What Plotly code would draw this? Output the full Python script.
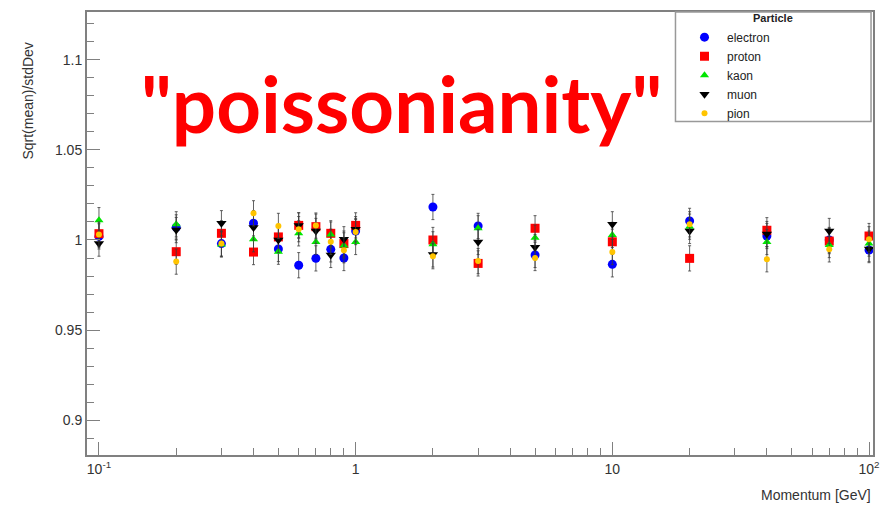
import plotly.graph_objects as go

momentum = [0.1, 0.2, 0.3, 0.4, 0.5, 0.6, 0.7, 0.8, 0.9, 1, 2, 3, 5, 10, 20, 40, 70, 100]

electron = [1.002, 1.007, 0.998, 1.0093, 0.995, 0.986, 0.9898, 0.9948, 0.990, 1.005,
            1.0183, 1.0078, 0.9917, 0.9865, 1.0106, 1.0022, 1.000, 0.9944]
proton = [1.0035, 0.9935, 1.0037, 0.9933, 1.0017, 1.0081, 1.0074, 1.0037, 0.998, 1.0081,
          1.0, 0.987, 1.0065, 0.999, 0.9898, 1.0054, 0.9994, 1.0022]
kaon = [1.011, 1.0087, 0.9975, 1.0004, 0.9935, 1.0037, 0.9989, 1.003, 0.997, 0.9989,
        0.9976, 1.0065, 1.0013, 1.0028, 1.0074, 0.9989, 0.9972, 0.998]
muon = [0.998, 1.0055, 1.0093, 1.0069, 1.0, 1.0081, 1.005, 0.9917, 1.0004, 1.006,
        0.992, 0.9989, 0.996, 1.0087, 1.005, 1.0033, 1.005, 0.995]
pion = [1.003, 0.988, 0.998, 1.0148, 1.0078, 1.006, 1.008, 0.999, 0.9943, 1.0044,
        0.991, 0.9883, 0.990, 0.9933, 1.0087, 0.9893, 0.9948, 1.0004]
errors = [0.007] * len(momentum)

series = [
    ("electron", electron, "#0000ff", "circle", 9),
    ("proton", proton, "#ff0000", "square", 9),
    ("kaon", kaon, "#00e600", "triangle-up", 8),
    ("muon", muon, "#000000", "triangle-down", 9),
    ("pion", pion, "#ffc400", "circle", 6),
]

y_tickvals = [0.9, 0.95, 1.0, 1.05, 1.1]
y_ticktext = ["0.9", "0.95", "1", "1.05", "1.1"]
x_tickvals = [0.1, 1, 10, 100]
x_ticktext = ["10<sup>-1</sup>", "1", "10", "10<sup>2</sup>"]
x_minor = [m * 10 ** e for e in (-1, 0, 1) for m in range(2, 10)]

fig = go.Figure()
for name, vals, color, sym, size in series:
    fig.add_trace(go.Scatter(
        x=momentum, y=vals, mode="markers", name=name,
        marker=dict(color=color, symbol=sym, size=size, line=dict(width=0)),
        error_y=dict(type="data", array=errors, color="rgba(60,60,60,0.8)",
                     thickness=1, width=1.5),
    ))

axis_color = "#808080"
fig.update_layout(
    width=890, height=506,
    margin=dict(l=87, r=15, t=10, b=51),
    paper_bgcolor="white", plot_bgcolor="white",
    font=dict(family="Liberation Sans, Arial, sans-serif", color="#333333"),
    showlegend=True,
    legend=dict(x=0.757, y=0.976, xanchor="left", yanchor="top",
                bgcolor="rgba(0,0,0,0)", borderwidth=0, itemwidth=35,
                font=dict(size=12, color="#222222"), tracegroupgap=0),
    xaxis=dict(type="log", range=[-1.0466, 2.0155],
               tickmode="array", tickvals=x_tickvals, ticktext=x_ticktext,
               ticks="inside", ticklen=13, tickcolor=axis_color, tickwidth=1,
               minor=dict(tickmode="array", tickvals=x_minor, ticks="inside",
                          ticklen=7, tickcolor=axis_color, tickwidth=1, showgrid=False),
               showline=True, linecolor=axis_color, linewidth=2, mirror=True,
               showgrid=False, zeroline=False,
               tickfont=dict(size=14, color="#333333")),
    yaxis=dict(range=[0.8807, 1.1265],
               tickmode="array", tickvals=y_tickvals, ticktext=y_ticktext,
               ticks="inside", ticklen=13, tickcolor=axis_color, tickwidth=1,
               minor=dict(dtick=0.01, tick0=0.9, ticks="inside", ticklen=7,
                          tickcolor=axis_color, tickwidth=1, showgrid=False),
               showline=True, linecolor=axis_color, linewidth=2, mirror=True,
               showgrid=False, zeroline=False,
               tickfont=dict(size=14, color="#333333")),
    shapes=[dict(type="rect", xref="paper", yref="paper",
                 x0=0.7487, x1=0.9975, y0=0.7528, y1=1.0,
                 line=dict(color="#999999", width=1.5), fillcolor="rgba(0,0,0,0)")],
    annotations=[
        dict(text="<b>Particle</b>", xref="paper", yref="paper", x=0.873, y=0.987,
             xanchor="center", yanchor="middle", showarrow=False,
             font=dict(size=11, color="#222222", family="Liberation Sans, Arial, sans-serif"),
             ),
        dict(text="<b>\"poissonianity\"</b>", xref="paper", yref="paper",
             x=0.3997, y=0.7955, xanchor="center", yanchor="middle", showarrow=False,
             font=dict(size=78, color="#ff0000", family="Lato, sans-serif")),
        dict(text="Sqrt(mean)/stdDev", xref="paper", yref="paper",
             x=-0.0749, y=0.798, xanchor="center", yanchor="middle", textangle=-90,
             showarrow=False, font=dict(size=14, color="#333333")),
        dict(text="Momentum [GeV]", xref="paper", yref="paper",
             x=1.0, y=-0.0899, xanchor="right", yanchor="middle",
             showarrow=False, font=dict(size=14, color="#333333")),
    ],
)

fig.write_html("out.html")
